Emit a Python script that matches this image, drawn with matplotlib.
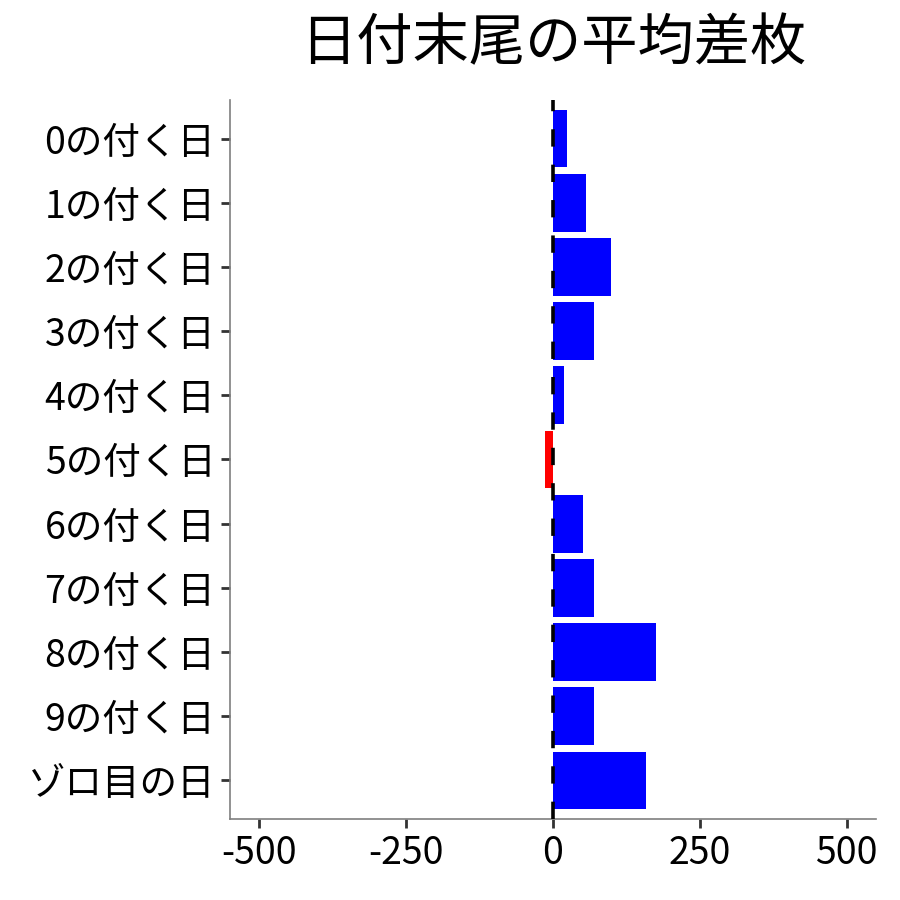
import matplotlib
matplotlib.use("Agg")
import matplotlib.pyplot as plt

plt.rcParams['font.family'] = ['Noto Sans CJK JP', 'DejaVu Sans']

categories = ["0の付く日", "1の付く日", "2の付く日", "3の付く日", "4の付く日",
              "5の付く日", "6の付く日", "7の付く日", "8の付く日", "9の付く日", "ゾロ目の日"]
values = [24, 56, 99, 70, 19, -14, 51, 70, 175, 70, 158]
xticks = [-500, -250, 0, 250, 500]
title = "日付末尾の平均差枚"

colors = ["#0000FF" if v >= 0 else "#FF0000" for v in values]

fig = plt.figure(figsize=(9, 9), dpi=100)
ax = fig.add_axes([230/900, 81/900, 646/900, 719/900])

ypos = list(range(len(categories)))
ax.barh(ypos, values, height=0.9, color=colors, zorder=2)
ax.axvline(0, color="black", linewidth=2.6, linestyle=(0, (4.8, 5.0)), zorder=3)

ax.set_xlim(-550, 550)
ax.set_ylim(len(categories) - 0.4, -0.6)
ax.set_yticks(ypos)
ax.set_yticklabels(categories)
ax.set_xticks(xticks)
ax.set_xticklabels([str(t) for t in xticks])

ax.tick_params(axis='both', labelsize=27, length=6.5, width=2.0, color="#333333",
               labelcolor="black", pad=4)

for s in ["top", "right"]:
    ax.spines[s].set_visible(False)
for s in ["left", "bottom"]:
    ax.spines[s].set_color("#7f7f7f")
    ax.spines[s].set_linewidth(1.2)

fig.suptitle(title, fontsize=40.5, x=553/900, y=0.982, va="top")

fig.savefig("out.png", dpi=100)
